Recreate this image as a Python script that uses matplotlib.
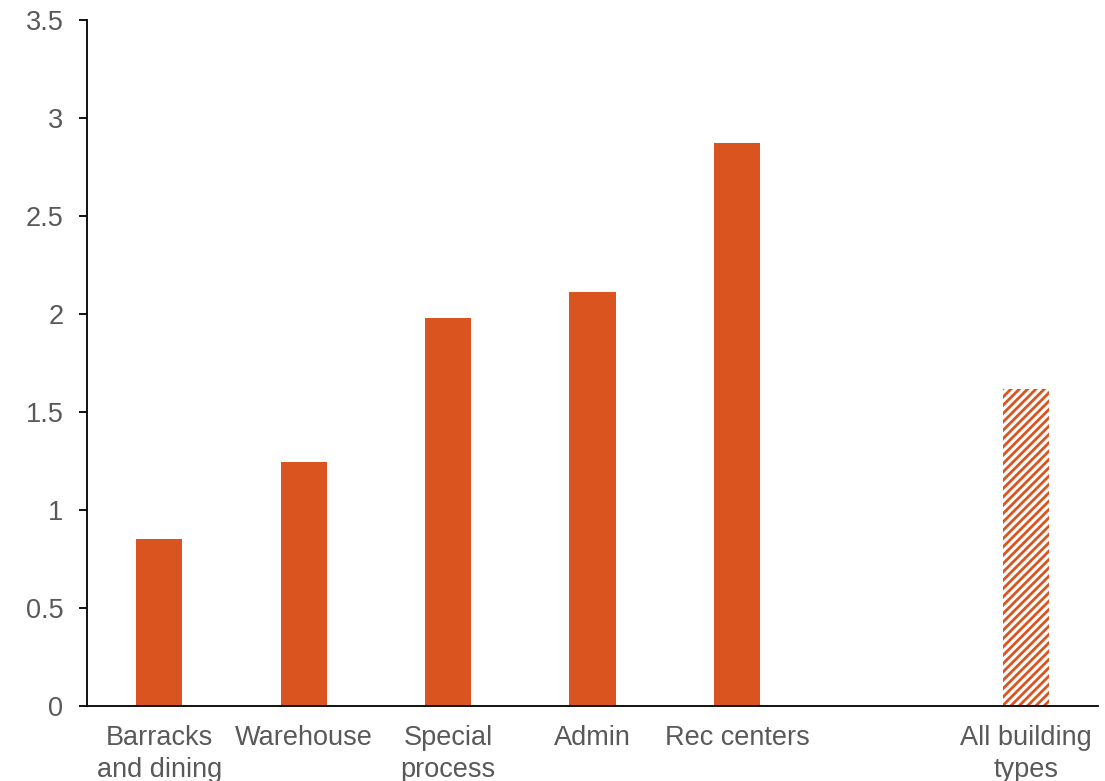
import matplotlib
matplotlib.use("Agg")
import matplotlib.pyplot as plt

categories = ["Barracks\nand dining", "Warehouse", "Special\nprocess", "Admin", "Rec centers", "", "All building\ntypes"]
values = [0.85, 1.245, 1.98, 2.115, 2.875, None, 1.62]
hatched = [False, False, False, False, False, False, True]
yticks = [0, 0.5, 1, 1.5, 2, 2.5, 3, 3.5]
ytick_labels = ["0", "0.5", "1", "1.5", "2", "2.5", "3", "3.5"]

ORANGE = "#DA541F"
GRAY = "#595959"

plt.rcParams['font.family'] = ['Liberation Sans', 'DejaVu Sans']
plt.rcParams['hatch.linewidth'] = 2.0
plt.rcParams['hatch.color'] = ORANGE

fig = plt.figure(figsize=(11.05, 7.81), dpi=100)
ax = fig.add_axes([0.0787, 0.096, 0.915, 0.878])

for i, (v, h) in enumerate(zip(values, hatched)):
    if v is None:
        continue
    if h:
        ax.bar(i, v, width=0.32, facecolor="white", edgecolor=ORANGE, hatch="////", linewidth=0)
    else:
        ax.bar(i, v, width=0.32, color=ORANGE, linewidth=0)

ax.set_xlim(-0.5, 6.5)
ax.set_ylim(0, 3.5)
ax.set_yticks(yticks)
ax.set_yticklabels(ytick_labels)
ax.set_xticks(range(len(categories)))
ax.set_xticklabels(categories, linespacing=1.27)

ax.spines['top'].set_visible(False)
ax.spines['right'].set_visible(False)
ax.spines['left'].set_linewidth(1.3)
ax.spines['bottom'].set_linewidth(1.3)
ax.tick_params(axis='y', length=6, width=1.3, pad=11, labelsize=19.5, labelcolor=GRAY)
ax.tick_params(axis='x', length=0, pad=14, labelsize=19.5, labelcolor=GRAY)

fig.savefig("out.png", dpi=100)
